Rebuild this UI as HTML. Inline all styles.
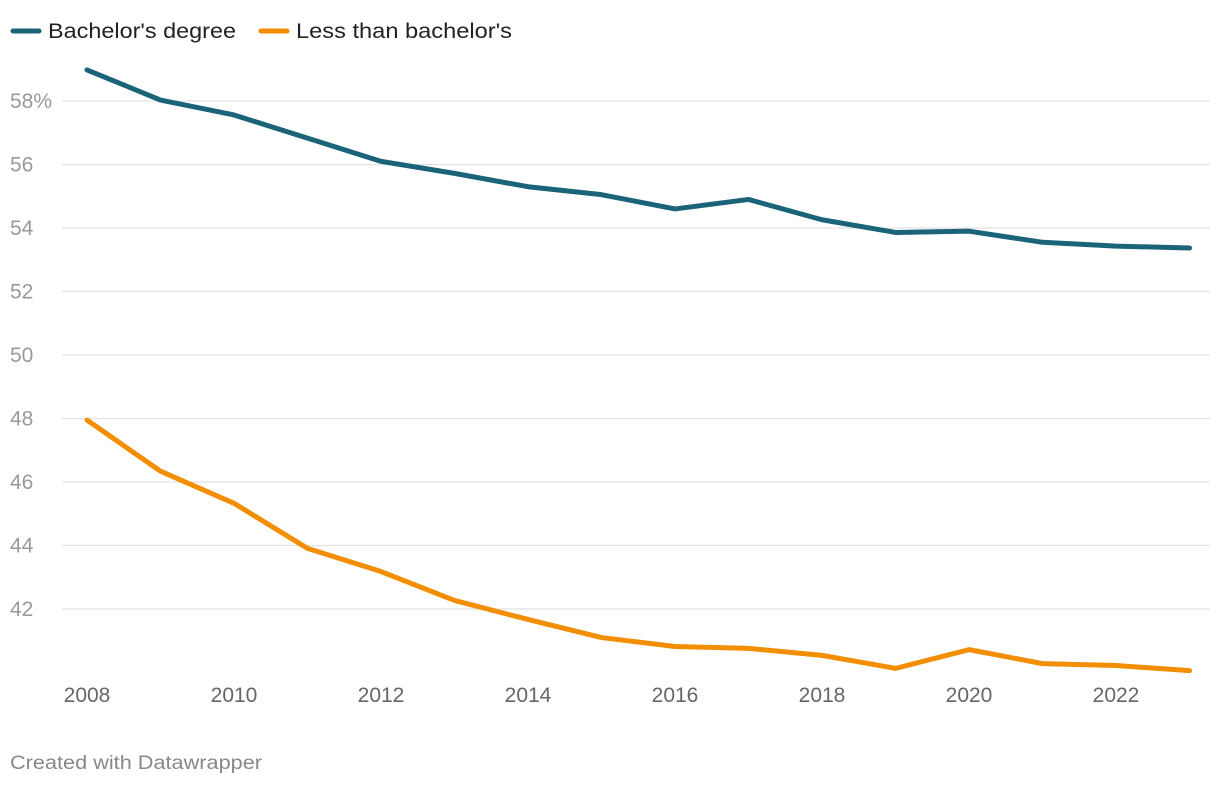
<!DOCTYPE html>
<html><head><meta charset="utf-8"><style>
body{margin:0;background:#fff;font-family:"Liberation Sans",sans-serif;}
svg text{font-family:"Liberation Sans",sans-serif;}
</style></head><body>
<svg id="chart" width="1220" height="786" xmlns="http://www.w3.org/2000/svg">
<g>
 <g><line x1="13" y1="31" x2="39" y2="31" stroke="#1a6378" stroke-width="5" stroke-linecap="round"/><text x="48" y="38" font-size="21" fill="#222" textLength="188" lengthAdjust="spacingAndGlyphs">Bachelor's degree</text></g>
 <g><line x1="261" y1="31" x2="287" y2="31" stroke="#f28e00" stroke-width="5" stroke-linecap="round"/><text x="296" y="38" font-size="21" fill="#222" textLength="216" lengthAdjust="spacingAndGlyphs">Less than bachelor's</text></g>
</g>
<g id="grid"></g>
<g id="yt"></g>
<g id="xt"></g>
<g id="lines"></g>
<text x="10" y="769" font-size="19" fill="#888" textLength="252" lengthAdjust="spacingAndGlyphs">Created with Datawrapper</text>
</svg>
<script>
const years=[2008,2009,2010,2011,2012,2013,2014,2015,2016,2017,2018,2019,2020,2021,2022,2023];
const bachelors=[58.98,58.03,57.56,56.83,56.1,55.72,55.3,55.05,54.6,54.9,54.26,53.86,53.9,53.55,53.43,53.37];
const lessThan=[47.95,46.34,45.33,43.91,43.18,42.27,41.67,41.1,40.82,40.76,40.54,40.13,40.72,40.28,40.22,40.06];
const yTicks=[42,44,46,48,50,52,54,56,58];
const xTicks=[2008,2010,2012,2014,2016,2018,2020,2022];
const NS="http://www.w3.org/2000/svg";
const x=v=>87+(v-2008)*73.5;
const y=v=>101+(58-v)*31.75;
function mk(tag,attrs,parent){const e=document.createElementNS(NS,tag);for(const k in attrs)e.setAttribute(k,attrs[k]);parent.appendChild(e);return e;}
const grid=document.getElementById('grid'),yt=document.getElementById('yt'),xt=document.getElementById('xt'),lines=document.getElementById('lines');
yTicks.forEach(t=>{
 const l=mk('line',{x1:62,x2:1210,y1:y(t),y2:y(t),stroke:'#e2e2e2','stroke-width':1.2},grid);
 
 
 const tx=mk('text',{x:10,y:y(t)+7,'font-size':21,fill:'#999'},yt);
 tx.textContent=t===58?'58%':String(t);
 
 
});
xTicks.forEach(t=>{
 const tx=mk('text',{x:x(t),y:702,'font-size':21,fill:'#666','text-anchor':'middle'},xt);
 tx.textContent=String(t);
 
 
});
function draw(vals,color,name){
 const d=vals.map((v,i)=>(i?'L':'M')+x(years[i])+' '+y(v)).join(' ');
 const p=mk('path',{d:d,fill:'none',stroke:color,'stroke-width':5,'stroke-linejoin':'round','stroke-linecap':'round'},lines);
 
 
}
draw(bachelors,'#1a6378','line-bachelors-degree');
draw(lessThan,'#f28e00','line-less-than-bachelors');
</script>
</body></html>
